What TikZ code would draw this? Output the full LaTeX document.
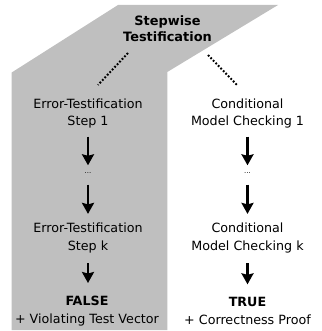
\documentclass[tikz,border=0pt]{standalone}
\usepackage{fontspec}
\setmainfont{DejaVu Sans}
\usetikzlibrary{arrows.meta}
\begin{document}
\begin{tikzpicture}[x=1pt,y=-1pt,
  lbl/.style={align=center,inner sep=0pt,font=\fontsize{12.7}{17.5}\selectfont},
  ttl/.style={lbl,font=\fontsize{12.9}{15.5}\selectfont\bfseries},
  dots/.style={inner sep=0pt,font=\fontsize{7}{8}\selectfont},
  flow/.style={line width=2.6pt,-{Stealth[width=12pt,length=11pt,inset=1.5pt]}},
  dotline/.style={line width=2pt,dash pattern=on 1.8pt off 1.8pt}]
\useasboundingbox (0,0) rectangle (321,331);
\fill[black!25] (11.7,72.5) -- (118,5) -- (278,5) -- (167.3,72) -- (167.3,330) -- (11.7,330) -- cycle;
\node[ttl] (title) at (167.5,28.5) {Stepwise\\Testification};
\node[lbl] (e1) at (88,113.5) {Error-Testification\\Step 1};
\node[lbl] (c1) at (247.5,113.5) {Conditional\\Model Checking 1};
\node[dots] (d1) at (88,173) {...};
\node[dots] (dc) at (247.5,173) {...};
\node[lbl] (ek) at (88,238) {Error-Testification\\Step k};
\node[lbl] (ck) at (247.5,238) {Conditional\\Model Checking k};
\node[lbl] (rf) at (87,311) {\textbf{FALSE}\\+ Violating Test Vector};
\node[lbl] (rt) at (247.5,311) {\textbf{TRUE}\\+ Correctness Proof};
\coordinate (ta) at (128,53);
\coordinate (tb) at (98,85);
\coordinate (tc) at (208,55);
\coordinate (td) at (237,85);
\draw[dotline] (ta) -- (tb);
\draw[dotline] (tc) -- (td);
\tikzset{a1/.style={flow,shorten <=8pt,shorten >=7pt},
         a2/.style={flow,shorten <=11pt,shorten >=9pt},
         a3/.style={flow,shorten <=10pt,shorten >=13pt}}
\draw[a1] (e1) -- (d1);
\draw[a2] (d1) -- (ek);
\draw[a3] (ek) -- (rf.north -| ek);
\draw[a1] (c1) -- (dc);
\draw[a2] (dc) -- (ck);
\draw[a3] (ck) -- (rt);
\end{tikzpicture}
\end{document}
